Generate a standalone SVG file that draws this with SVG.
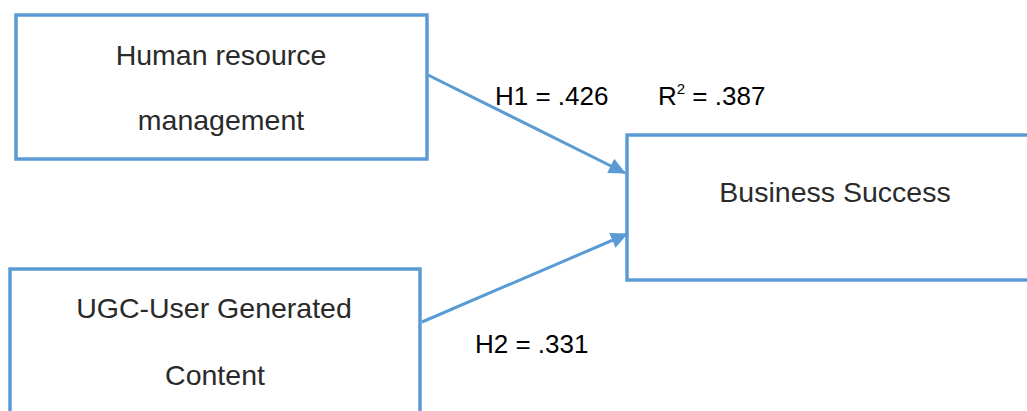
<svg xmlns="http://www.w3.org/2000/svg" width="1027" height="411" viewBox="0 0 1027 411">
  <style>
    .box { fill: #ffffff; stroke: #5b9bd5; stroke-width: 3.5; }
    .lbl { font-family: "Liberation Sans", Arial, sans-serif; font-size: 28.5px; fill: #2a2a2a; text-anchor: middle; }
    .coef { font-family: "Liberation Sans", Arial, sans-serif; font-size: 26px; fill: #000000; }
    .link { stroke: #5b9bd5; stroke-width: 3; fill: none; marker-end: url(#arrow); }
  </style>
  <defs>
    <marker id="arrow" markerUnits="userSpaceOnUse" markerWidth="18" markerHeight="16" refX="16" refY="8" orient="auto">
      <path d="M0,0 L17,8 L0,16 z" fill="#5b9bd5"/>
    </marker>
  </defs>
  <rect width="1027" height="411" fill="#ffffff"/>

  <g id="connectors">
    <line class="link" x1="428" y1="75" x2="625" y2="173"/>
    <line class="link" x1="422" y1="322" x2="627" y2="234"/>
  </g>

  <g id="node-hrm">
    <rect class="box" x="16" y="15" width="411" height="144"/>
    <text class="lbl" x="221" y="65">Human resource</text>
    <text class="lbl" x="221" y="130">management</text>
  </g>

  <g id="node-ugc">
    <rect class="box" x="10" y="269" width="410" height="150"/>
    <text class="lbl" x="214" y="318">UGC-User Generated</text>
    <text class="lbl" x="215" y="385">Content</text>
  </g>

  <g id="node-success">
    <rect class="box" x="627" y="135" width="410" height="145"/>
    <text class="lbl" x="835" y="202">Business Success</text>
  </g>

  <g id="labels">
    <text class="coef" x="495" y="105">H1 = .426</text>
    <text class="coef" x="658" y="105">R<tspan font-size="15" dy="-11">2</tspan><tspan dy="11"> = .387</tspan></text>
    <text class="coef" x="475" y="353">H2 = .331</text>
  </g>
</svg>
